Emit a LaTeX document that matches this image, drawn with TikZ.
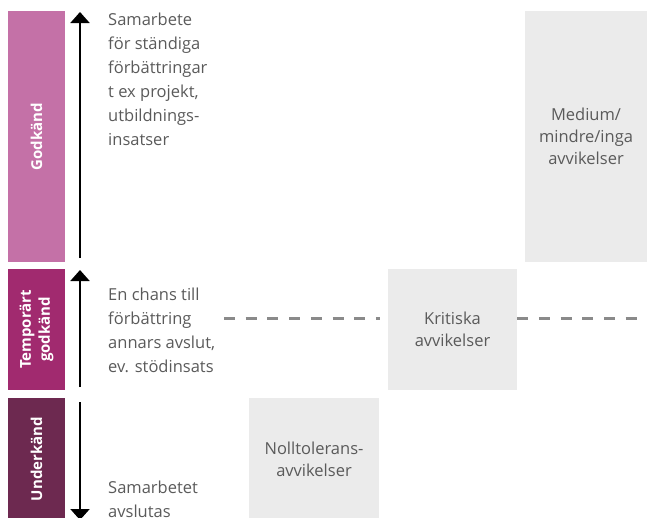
\documentclass[tikz,border=0pt]{standalone}
\usepackage{fontspec}
\setmainfont{Open Sans}
\usetikzlibrary{arrows.meta, positioning}
\definecolor{BarLight}{HTML}{C471A7}
\definecolor{BarMid}{HTML}{A12A6F}
\definecolor{BarDark}{HTML}{6D2950}
\definecolor{BoxGray}{HTML}{EBEBEB}
\definecolor{TextGray}{HTML}{5A5A5A}
\definecolor{DashGray}{HTML}{8A8A8A}

\begin{document}
\begin{tikzpicture}[x=1pt, y=-1pt,
      bar/.style={rotate=90, inner sep=0, minimum height=57, text=white,
         font=\fontsize{15}{19}\selectfont\bfseries, align=center},
      devbox/.style={fill=BoxGray, inner sep=0, text=TextGray,
         font=\fontsize{16.5}{22}\selectfont, align=center},
      note/.style={anchor=north west, inner sep=0, text=TextGray,
         font=\fontsize{16.5}{24}\selectfont, align=left},
      axis/.style={-{Triangle[width=19pt, length=11pt]}, line width=2pt},
      dashline/.style={DashGray, line width=2.7pt, dash pattern=on 11pt off 10.7pt}]
            \useasboundingbox (0,0) rectangle (647,517);
            % Bars (rotated labels)
            \node[bar, fill=BarLight, minimum width=251] (godkand) at (36.5,136.5) {Godkänd};
            \node[bar, fill=BarMid, minimum width=121] (temp) at (36.5,329.5) {Temporärt\\godkänd};
            \node[bar, fill=BarDark, minimum width=122] (underkand) at (36.5,459) {Underkänd};
            % Arrows
            \coordinate (g bot) at (80,258);
            \coordinate (g top) at (80,12);
            \coordinate (t bot) at (80,387);
            \coordinate (t top) at (80,270);
            \coordinate (u top) at (80,402);
            \coordinate (u bot) at (80,520);
            \draw[axis] (g bot) -- (g top);
            \draw[axis] (t bot) -- (t top);
            \draw[axis] (u top) -- (u bot);
            % Notes beside the arrows
            \node[note] (samarbete) at (108,13) {Samarbete\\för ständiga\\förbättringar\\t ex projekt,\\utbildnings-\\insatser};
            \node[note] (chans) at (108,288) {En chans till\\förbättring\\annars avslut,\\ev. stödinsats};
            \node[note] (avslut) at (108,481) {Samarbetet\\avslutas};
            % Deviation boxes
            \node[devbox, minimum width=122, minimum height=251] (medium) at (586,136.5) {Medium/\\mindre/inga\\avvikelser};
            \node[devbox, minimum width=129, minimum height=121] (kritiska) at (452.5,329.5) {Kritiska\\avvikelser};
            \node[devbox, minimum width=130, minimum height=122] (noll) at (314,459) {Nolltolerans-\\avvikelser};
            % Dashed level line
            \coordinate (dash start) at (224,318.5);
            \coordinate (dash end) at (647,318.5);
            \draw[dashline, shorten >=8pt] (dash start) -- (kritiska.west |- dash start);
            \draw[dashline] (kritiska.east |- dash end) -- (dash end);
         \end{tikzpicture}
\end{document}
